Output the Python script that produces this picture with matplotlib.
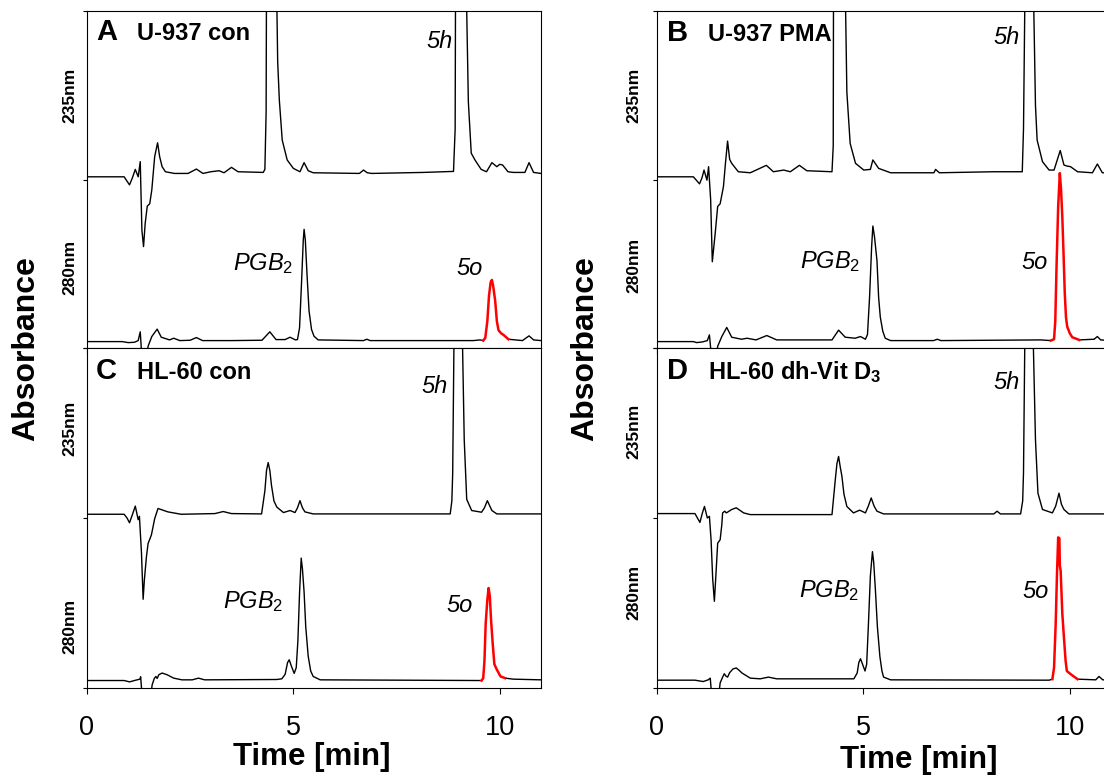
import numpy as np
import matplotlib
matplotlib.use('Agg')
import matplotlib.pyplot as plt

plt.rcParams['font.family'] = 'Liberation Sans'
plt.rcParams['mathtext.fontset'] = 'custom'
plt.rcParams['mathtext.rm'] = 'Liberation Sans'
plt.rcParams['mathtext.it'] = 'Liberation Sans:italic'
plt.rcParams['mathtext.bf'] = 'Liberation Sans:bold'

# chromatogram traces: (time [min], absorbance [a.u., panel = 0..100])
A_235 = [(0.0, 50.8), (0.90, 50.8), (0.97, 49.5), (1.03, 48.4), (1.10, 50.5), (1.17, 53.0), (1.24, 50.8),
         (1.29, 55.3), (1.33, 35.0), (1.37, 30.1), (1.41, 37.0), (1.46, 42.1), (1.52, 42.8), (1.57, 46.9),
         (1.64, 56.8), (1.71, 60.9), (1.76, 56.8), (1.82, 53.8), (1.90, 52.3), (2.12, 51.8), (2.45, 51.8),
         (2.65, 53.1), (2.81, 51.8), (3.00, 52.3), (3.20, 52.6), (3.32, 52.0), (3.50, 53.6), (3.66, 52.3),
         (4.27, 52.1), (4.31, 53.0), (4.34, 70), (4.37, 200), (4.46, 400), (4.56, 200), (4.59, 110),
         (4.62, 85), (4.66, 73.6), (4.73, 61.7), (4.85, 55.8), (5.00, 53.3), (5.16, 52.3), (5.26, 55.0),
         (5.36, 52.6), (5.48, 52.0), (6.60, 51.8), (6.70, 52.8), (6.79, 52.0), (6.90, 51.8), (8.15, 52.1),
         (8.88, 52.4), (8.92, 65), (8.95, 200), (9.07, 400), (9.16, 250), (9.20, 100), (9.24, 73),
         (9.31, 57.8), (9.40, 55.8), (9.55, 53.0), (9.68, 52.3), (9.81, 55.0), (9.93, 53.8), (10.00, 54.5),
         (10.07, 54.3), (10.20, 52.3), (10.33, 52.1), (10.61, 52.1), (10.71, 55.0), (10.82, 52.1), (11.0, 51.8)]
A_280 = [(0.0, 1.9), (0.85, 1.9), (1.00, 1.6), (1.15, 1.7), (1.24, 2.2), (1.29, 4.8), (1.31, 1.0), (1.33, -4),
         (1.42, -4), (1.48, 0.5), (1.57, 3.4), (1.70, 5.6), (1.80, 3.2), (1.90, 2.8), (2.00, 2.4), (2.10, 2.9),
         (2.25, 2.2), (2.50, 2.3), (2.65, 3.1), (2.80, 2.2), (3.50, 2.2), (4.24, 2.3), (4.43, 4.8), (4.58, 2.5),
         (4.80, 2.5), (4.92, 3.2), (5.05, 2.4), (5.10, 2.5), (5.15, 6), (5.20, 20), (5.24, 32), (5.26, 35.2),
         (5.29, 32), (5.33, 22), (5.38, 11), (5.44, 5.5), (5.50, 3.5), (5.60, 2.4), (6.70, 2.2), (6.78, 2.6),
         (6.86, 2.2), (9.36, 2.2), (9.52, 2.4), (9.60, 2.2), (9.65, 3.0), (9.70, 8), (9.74, 15.5),
         (9.78, 19.5), (9.81, 20.2), (9.84, 18.5), (9.89, 14), (9.93, 8), (9.97, 5.3), (10.03, 4.4),
         (10.09, 3.9), (10.21, 2.6), (10.55, 2.2), (10.71, 3.6), (10.82, 2.4), (11.0, 2.2)]

B_235 = [(0.0, 50.8), (0.88, 50.8), (0.96, 49.7), (1.03, 48.7), (1.09, 50.5), (1.14, 52.8), (1.21, 49.8),
         (1.25, 53.8), (1.30, 44.0), (1.34, 25.6), (1.41, 34.0), (1.47, 42.0), (1.53, 42.8), (1.61, 47.9),
         (1.66, 55), (1.71, 61.4), (1.76, 56), (1.81, 54.8), (1.97, 52.3), (2.26, 52.0), (2.65, 54.2),
         (2.82, 52.3), (3.07, 52.8), (3.23, 52.3), (3.45, 54.2), (3.63, 52.6), (4.24, 52.3), (4.27, 60),
         (4.29, 200), (4.42, 400), (4.53, 200), (4.57, 100), (4.60, 76), (4.68, 60.7), (4.81, 54.8),
         (5.01, 52.8), (5.17, 53.0), (5.23, 55.8), (5.37, 53.3), (5.66, 52.0), (6.71, 52.0), (6.75, 53.0),
         (6.84, 52.0), (8.16, 52.3), (8.85, 52.3), (8.88, 65), (8.91, 100), (8.97, 300), (9.03, 400),
         (9.09, 250), (9.13, 100), (9.17, 72), (9.21, 61.7), (9.34, 55.3), (9.50, 52.8), (9.62, 52.8),
         (9.77, 58.6), (9.86, 54.3), (9.93, 54.0), (10.02, 53.8), (10.19, 52.3), (10.55, 52.0),
         (10.67, 54.6), (10.79, 52.0), (11.0, 52.0)]
B_280 = [(0.0, 1.9), (0.88, 1.9), (0.96, 1.6), (1.10, 1.8), (1.22, 2.2), (1.27, 3.9), (1.30, 0), (1.32, -4),
         (1.43, -4), (1.47, 0.5), (1.57, 3.4), (1.69, 6.1), (1.81, 3.2), (2.05, 2.6), (2.18, 2.9), (2.40, 2.4),
         (2.66, 3.7), (2.90, 2.4), (4.24, 2.4), (4.40, 5.3), (4.56, 3.2), (4.80, 2.9), (4.93, 3.4), (5.05, 2.6),
         (5.10, 4), (5.15, 15), (5.20, 30), (5.23, 36.2), (5.27, 33), (5.33, 25.9), (5.37, 15), (5.41, 9.2),
         (5.47, 5), (5.53, 2.9), (5.66, 2.2), (6.70, 2.2), (6.79, 2.6), (6.88, 2.2), (9.30, 2.4), (9.54, 2.2),
         (9.62, 2.6), (9.65, 8), (9.68, 24), (9.72, 42), (9.76, 51.9), (9.79, 47), (9.82, 39), (9.85, 28),
         (9.88, 16.2), (9.91, 9), (9.94, 6.3), (10.00, 4.4), (10.06, 3.2), (10.23, 2.4), (10.59, 2.6),
         (10.67, 3.4), (10.75, 2.4), (11.0, 2.2)]

C_235 = [(0.0, 51.1), (0.90, 51.1), (0.97, 50.0), (1.03, 48.6), (1.10, 51.0), (1.17, 53.5), (1.24, 49.5),
         (1.27, 50.5), (1.32, 39.7), (1.36, 26.1), (1.39, 31.8), (1.44, 38.6), (1.48, 42.5), (1.56, 45.0),
         (1.64, 49.8), (1.72, 52.8), (1.96, 51.8), (2.28, 51.1), (3.10, 51.3), (3.30, 51.9), (3.50, 51.3),
         (4.23, 51.2), (4.31, 58.0), (4.35, 64), (4.39, 66.3), (4.43, 64), (4.47, 59.6), (4.53, 55),
         (4.60, 53.2), (4.76, 51.6), (4.92, 52.2), (5.04, 51.6), (5.10, 53.0), (5.16, 55.1), (5.22, 53.0),
         (5.28, 51.8), (5.48, 51.2), (8.80, 51.2), (8.84, 55), (8.86, 63), (8.89, 100), (8.95, 300),
         (9.02, 400), (9.06, 250), (9.10, 100), (9.14, 73), (9.20, 55.5), (9.32, 52.2), (9.56, 51.7),
         (9.63, 53), (9.70, 55.1), (9.76, 53.5), (9.81, 52.2), (9.93, 51.2), (11.0, 51.2)]
C_280 = [(0.0, 2.2), (0.90, 2.2), (1.03, 1.8), (1.15, 2.2), (1.28, 2.6), (1.30, 3.3), (1.32, 0), (1.34, -4),
         (1.52, -4), (1.58, 1.0), (1.63, 2.8), (1.67, 3.4), (1.70, 2.8), (1.74, 3.9), (1.82, 4.4), (1.94, 3.9),
         (2.10, 2.9), (2.30, 2.4), (2.55, 2.4), (2.70, 2.9), (2.85, 2.4), (4.60, 2.5), (4.72, 2.7), (4.80, 4),
         (4.86, 7.5), (4.90, 8.3), (4.95, 6.5), (5.02, 4.3), (5.07, 6), (5.11, 14), (5.15, 28), (5.19, 38.2),
         (5.22, 35), (5.26, 28.2), (5.30, 18), (5.36, 9.3), (5.42, 5), (5.48, 3.4), (5.65, 2.4), (9.52, 2.2),
         (9.56, 2.2), (9.60, 2.9), (9.63, 8), (9.66, 19), (9.70, 26), (9.73, 29.4), (9.76, 27), (9.79, 20),
         (9.83, 13), (9.87, 7), (9.93, 5.4), (10.02, 3.4), (10.13, 2.9), (10.33, 2.6), (11.0, 2.4)]

D_235 = [(0.0, 51.3), (0.92, 51.3), (0.98, 50), (1.04, 48.7), (1.10, 51.5), (1.15, 53.4), (1.22, 50.0),
         (1.27, 50.5), (1.31, 43.6), (1.35, 32), (1.39, 25.5), (1.43, 33.8), (1.47, 42.6), (1.53, 43.6),
         (1.57, 48), (1.59, 51.5), (1.64, 52.0), (1.68, 51.5), (1.72, 51.8), (1.81, 52.5), (1.92, 53.0),
         (2.10, 51.5), (2.26, 51.0), (4.24, 51.0), (4.32, 61.3), (4.36, 66), (4.40, 68.1), (4.44, 65),
         (4.48, 62.3), (4.53, 57), (4.60, 53.4), (4.76, 51.5), (4.91, 52.3), (5.05, 51.5), (5.12, 53.5),
         (5.19, 55.9), (5.26, 53.5), (5.33, 52.0), (5.49, 51.2), (8.16, 51.2), (8.24, 52.0), (8.32, 51.2),
         (8.81, 51.2), (8.86, 55), (8.88, 63.3), (8.91, 100), (8.97, 300), (9.03, 400), (9.08, 250),
         (9.12, 100), (9.17, 73), (9.23, 57.3), (9.34, 52.5), (9.58, 51.5), (9.66, 53.5), (9.74, 57.3),
         (9.80, 54), (9.86, 52.5), (9.98, 51.2), (11.0, 51.2)]
D_280 = [(0.0, 2.3), (0.92, 2.3), (1.12, 1.9), (1.24, 2.4), (1.29, 2.9), (1.31, 0), (1.33, -4), (1.48, -4),
         (1.53, 1.5), (1.59, 3.2), (1.63, 4.2), (1.67, 3.5), (1.71, 3.2), (1.76, 4.5), (1.84, 5.6), (1.92, 5.9),
         (1.99, 5.2), (2.06, 4.4), (2.26, 2.9), (2.50, 2.7), (2.70, 3.2), (2.90, 2.7), (4.77, 2.7), (4.85, 4.4),
         (4.89, 7.5), (4.93, 8.6), (4.98, 7), (5.04, 5), (5.08, 7), (5.12, 18), (5.17, 33), (5.22, 40.1),
         (5.25, 37), (5.29, 29.2), (5.34, 18), (5.40, 9.3), (5.45, 5), (5.49, 3.2), (5.66, 2.4), (9.50, 2.3),
         (9.58, 2.6), (9.62, 6), (9.66, 19), (9.69, 33), (9.72, 44.3), (9.75, 44), (9.76, 36), (9.78, 34.5),
         (9.82, 22), (9.86, 14.8), (9.90, 8), (9.93, 5.0), (10.04, 3.9), (10.19, 2.6), (10.63, 2.4),
         (10.71, 3.4), (10.80, 2.4), (11.0, 2.4)]

# time window of the 5o peak (drawn in red)
red_windows = {'A': (9.60, 10.21), 'B': (9.54, 10.23), 'C': (9.56, 10.13), 'D': (9.58, 10.19)}

titles = {'A': 'U-937 con', 'B': 'U-937 PMA', 'C': 'HL-60 con', 'D': r'HL-60 dh-Vit $\mathbf{D_3}$'}

W, H = 1104, 777
fig = plt.figure(figsize=(W / 100, H / 100), dpi=100)


def box(l, t, r, b):
    return [l / W, 1 - b / H, (r - l) / W, (b - t) / H]


# panel boxes in pixels (left, top, right, bottom); B and D run past the right edge
boxes = {'A': (87, 11, 541, 348), 'B': (657, 11, 1111, 348),
         'C': (87, 348, 541, 688), 'D': (657, 348, 1111, 688)}
traces = {'A': (A_235, A_280), 'B': (B_235, B_280), 'C': (C_235, C_280), 'D': (D_235, D_280)}

# label placement: letter/title (axes frac), 5h, PGB2, 5o (data), 235nm/280nm (axes frac)
place = {
    'A': dict(let=(0.020, 0.914), h=(8.87, 89.0), pgb=(4.99, 23.1), o=(9.60, 21.7), nx=-0.037, n235=0.75, n280=0.24),
    'B': dict(let=(0.022, 0.911), h=(8.80, 90.2), pgb=(4.92, 23.7), o=(9.47, 23.4), nx=-0.051, n235=0.75, n280=0.246),
    'C': dict(let=(0.020, 0.909), h=(8.75, 86.8), pgb=(4.75, 23.5), o=(9.35, 22.4), nx=-0.037, n235=0.764, n280=0.18),
    'D': dict(let=(0.022, 0.909), h=(8.80, 87.9), pgb=(4.89, 26.8), o=(9.50, 26.5), nx=-0.051, n235=0.755, n280=0.28),
}

for key in 'ABCD':
    ax = fig.add_axes(box(*boxes[key]))
    tr235, tr280 = traces[key]
    t, a = np.array(tr235).T
    ax.plot(t, a, color='black', lw=1.0)
    t, a = np.array(tr280).T
    r0, r1 = red_windows[key]
    ax.plot(t[t <= r0], a[t <= r0], color='black', lw=1.0)
    ax.plot(t[t >= r1], a[t >= r1], color='black', lw=1.0)
    m = (t >= r0) & (t <= r1)
    ax.plot(t[m], a[m], color='red', lw=1.8)

    ax.set_xlim(0, 11)
    ax.set_ylim(0, 100)
    ax.set_yticks([0, 50, 100])
    ax.set_yticklabels([])
    ax.tick_params(axis='y', direction='out', length=3, width=0.8)
    if key in 'AB':
        ax.set_xticks([0, 2, 4, 6, 8, 10])
        ax.set_xticklabels([])
    else:
        ax.set_xticks([0, 5, 10])
    ax.tick_params(axis='x', direction='out', length=4.3, width=0.8, labelsize=19.5, pad=15)
    for sp in ax.spines.values():
        sp.set_linewidth(0.8)

    p = place[key]
    ax.text(p['let'][0], p['let'][1], key, transform=ax.transAxes, fontsize=21,
            fontweight='bold', va='baseline', ha='left')
    ax.text(p['let'][0] + 0.090, p['let'][1], titles[key], transform=ax.transAxes,
            fontsize=17, fontweight='bold', va='baseline', ha='left')
    ax.text(*p['h'], '5h', fontsize=17, style='italic', ha='right', va='baseline')
    ax.text(*p['pgb'], r'$\mathit{PGB_2}$', fontsize=17, ha='right', va='baseline')
    ax.text(*p['o'], '5o', fontsize=17, style='italic', ha='right', va='baseline')
    ax.text(p['nx'], p['n235'], '235nm', transform=ax.transAxes, rotation=90,
            fontsize=12.5, fontweight='bold', ha='center', va='center')
    ax.text(p['nx'], p['n280'], '280nm', transform=ax.transAxes, rotation=90,
            fontsize=12.5, fontweight='bold', ha='center', va='center')

for x in (26, 585):
    fig.text(x / W, 1 - 349 / H, 'Absorbance', rotation=90, fontsize=23,
             fontweight='bold', ha='center', va='center')
fig.text(312 / W, 1 - 757 / H, 'Time [min]', fontsize=22.5, fontweight='bold', ha='center', va='center')
fig.text(919 / W, 1 - 760 / H, 'Time [min]', fontsize=22.5, fontweight='bold', ha='center', va='center')

fig.savefig('out.png', dpi=100)
